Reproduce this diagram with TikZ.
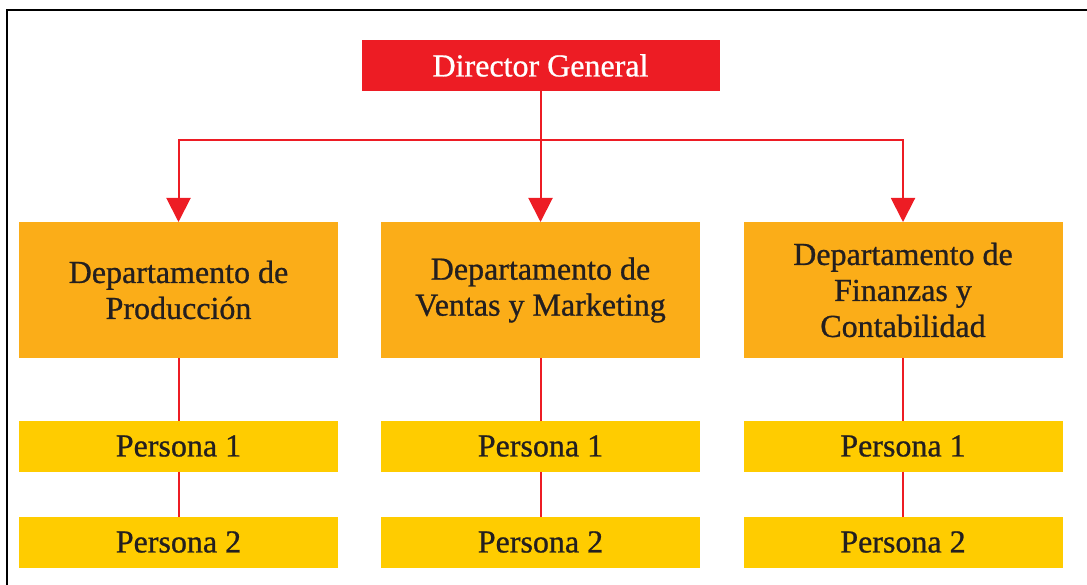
\documentclass[tikz,border=0pt]{standalone}
\usepackage{fontspec}
\setmainfont{Liberation Serif}
\newfontfamily\chartfont[FakeBold=0.8]{Liberation Serif}
\usetikzlibrary{arrows.meta}
\definecolor{dgred}{RGB}{237,28,36}
\definecolor{deptorange}{RGB}{251,173,24}
\definecolor{persyellow}{RGB}{255,204,0}
\definecolor{inkdark}{RGB}{35,31,32}

\begin{document}
\begin{tikzpicture}[x=1pt,y=-1pt,
        every node/.style = {inner sep=0pt,outer sep=0pt,align=center,font=\chartfont\fontsize{32}{36}\selectfont},
        dir box/.style = {fill=dgred,text=white,minimum width=358pt,minimum height=51pt},
        dept box/.style = {fill=deptorange,text=inkdark,minimum width=319pt,minimum height=136pt},
        pers box/.style = {fill=persyellow,text=inkdark,minimum width=319pt,minimum height=51pt},
        link/.style = {draw=dgred,line width=2pt},
        down arrow/.style = {link,-{Triangle[width=24pt,length=24pt]}}]
        \useasboundingbox (0,0) rectangle (1087,585);
        \draw[line width=2pt] (6.5,585) -- (6.5,10) -- (1087,10);
        \node[dir box] (dg) at (540.5,65.5) {Director General};
        \node[dept box] (prod) at (178.5,290) {Departamento de\\Producción};
        \node[dept box] (ventas) at (540.5,290) {Departamento de\\Ventas y Marketing};
        \node[dept box] (fin) at (903,290) {Departamento de\\Finanzas y\\Contabilidad};
        \node[pers box] (prodA) at (178.5,446) {Persona 1};
        \node[pers box] (ventasA) at (540.5,446) {Persona 1};
        \node[pers box] (finA) at (903,446) {Persona 1};
        \node[pers box] (prodB) at (178.5,542) {Persona 2};
        \node[pers box] (ventasB) at (540.5,542) {Persona 2};
        \node[pers box] (finB) at (903,542) {Persona 2};
        \coordinate (bus) at (540.5,140);
        \draw[down arrow] (dg.south) -- (ventas.north);
        \draw[down arrow] (bus) -| (prod.north);
        \draw[down arrow] (bus) -| (fin.north);
        \foreach \d in {prod,ventas,fin}
            \draw[link] (\d.south) -- (\d A.north) (\d A.south) -- (\d B.north);
    \end{tikzpicture}
\end{document}
